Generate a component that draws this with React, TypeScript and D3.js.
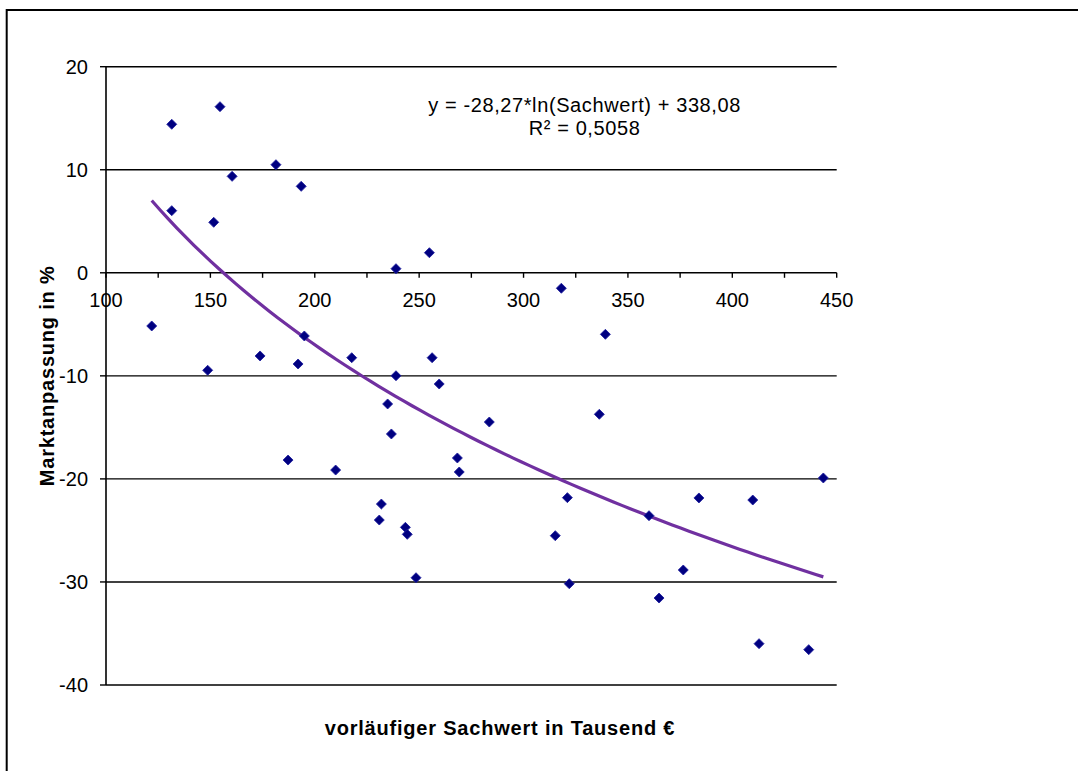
import React, { useEffect, useRef } from "react";
import * as d3 from "d3";

// Vorläufiger Sachwert (Tausend €) and Marktanpassung (%) per sale
const sachwert: number[] = [
  131.5, 154.6, 181.4, 160.4, 193.5, 131.5, 151.6, 121.9, 195.0, 173.8,
  192.0, 148.7, 217.7, 238.9, 254.9, 318.1, 256.2, 238.9, 339.2, 259.6,
  234.9, 283.6, 236.7, 268.3, 269.2, 231.9, 230.9, 243.4, 244.3, 248.5,
  321.0, 315.2, 321.9, 187.2, 210.0, 336.3, 443.6, 360.1, 384.0, 409.8,
  376.5, 364.9, 412.8, 436.6,
];
const marktanpassung: number[] = [
  14.41, 16.12, 10.49, 9.36, 8.39, 6.03, 4.9, -5.16, -6.13, -8.07,
  -8.85, -9.46, -8.24, 0.4, 1.95, -1.5, -8.24, -9.99, -5.97, -10.79,
  -12.73, -14.48, -15.64, -17.97, -19.33, -22.44, -23.99, -24.7, -25.38, -29.59,
  -21.82, -25.51, -30.17, -18.17, -19.14, -13.73, -19.91, -23.57, -21.85, -22.05,
  -28.84, -31.56, -35.99, -36.57,
];

// Logarithmic trendline coefficients (Sachwert in €)
const trendSlope = -28.27;
const trendIntercept = 338.08;
const rSquared = "0,5058";

const xTicks: number[] = [100, 150, 200, 250, 300, 350, 400, 450];
const xMinorTicks: number[] = [125, 175, 225, 275, 325, 375, 425];
const yTicks: number[] = [20, 10, 0, -10, -20, -30, -40];

const xTitle = "vorläufiger Sachwert in Tausend €";
const yTitle = "Marktanpassung in %";
const equationText = "y = -28,27*ln(Sachwert) + 338,08";

const FONT = "Arial, 'Liberation Sans', sans-serif";

export default function App() {
  const ref = useRef<SVGSVGElement | null>(null);

  useEffect(() => {
    const svg = d3.select(ref.current);
    svg.selectAll("*").remove();

    const x = d3.scaleLinear().domain([100, 450]).range([106, 836.7]);
    const y = d3.scaleLinear().domain([20, -40]).range([66.7, 685]);

    // chart area background and frame (right and bottom edges run past the view)
    svg.append("rect").attr("width", 1078).attr("height", 771).attr("fill", "#fff");
    svg
      .append("path")
      .attr("d", "M6.7,800 V10 H1100")
      .attr("fill", "none")
      .attr("stroke", "#000")
      .attr("stroke-width", 2);

    // horizontal grid lines
    svg
      .append("g")
      .selectAll("line")
      .data(yTicks)
      .join("line")
      .attr("x1", x(100))
      .attr("x2", x(450))
      .attr("y1", (d) => y(d))
      .attr("y2", (d) => y(d))
      .attr("stroke", "#000")
      .attr("stroke-width", 1.4);

    // y axis
    svg
      .append("line")
      .attr("x1", x(100))
      .attr("x2", x(100))
      .attr("y1", y(20))
      .attr("y2", y(-40))
      .attr("stroke", "#000")
      .attr("stroke-width", 1.6);

    svg
      .append("g")
      .selectAll("line")
      .data(yTicks)
      .join("line")
      .attr("x1", x(100) - 6)
      .attr("x2", x(100))
      .attr("y1", (d) => y(d))
      .attr("y2", (d) => y(d))
      .attr("stroke", "#000")
      .attr("stroke-width", 1.4);

    svg
      .append("g")
      .selectAll("text")
      .data(yTicks)
      .join("text")
      .attr("x", 88)
      .attr("y", (d) => y(d) + 7.3)
      .attr("text-anchor", "end")
      .attr("font-family", FONT)
      .attr("font-size", 20)
      .attr("fill", "#000")
      .text((d) => String(d));

    // x axis at y = 0
    svg
      .append("g")
      .selectAll("line")
      .data([...xTicks, ...xMinorTicks])
      .join("line")
      .attr("x1", (d) => x(d))
      .attr("x2", (d) => x(d))
      .attr("y1", y(0))
      .attr("y2", y(0) + 5)
      .attr("stroke", "#000")
      .attr("stroke-width", 1.4);

    svg
      .append("g")
      .selectAll("text")
      .data(xTicks)
      .join("text")
      .attr("x", (d) => x(d))
      .attr("y", y(0) + 34)
      .attr("text-anchor", "middle")
      .attr("font-family", FONT)
      .attr("font-size", 20)
      .attr("fill", "#000")
      .text((d) => String(d));

    // trendline over the data range
    const [xmin, xmax] = d3.extent(sachwert) as [number, number];
    const trendX = d3.range(0, 81).map((i) => xmin + ((xmax - xmin) * i) / 80);
    const line = d3
      .line<number>()
      .x((d) => x(d))
      .y((d) => y(trendSlope * Math.log(d * 1000) + trendIntercept));
    svg
      .append("path")
      .datum(trendX)
      .attr("d", line)
      .attr("fill", "none")
      .attr("stroke", "#7030A0")
      .attr("stroke-width", 3.2);

    // data markers
    const diamond = d3.symbol().type(d3.symbolSquare).size(50)();
    svg
      .append("g")
      .selectAll("path")
      .data(sachwert.map((v, i) => [v, marktanpassung[i]]))
      .join("path")
      .attr("d", diamond)
      .attr("transform", (d) => `translate(${x(d[0])},${y(d[1])}) rotate(45)`)
      .attr("fill", "#000080")
      .attr("stroke", "#1f1f9e")
      .attr("stroke-width", 0.8);

    // trendline label
    const eq = svg
      .append("text")
      .attr("text-anchor", "middle")
      .attr("font-family", FONT)
      .attr("font-size", 20)
      .attr("letter-spacing", 0.6)
      .attr("fill", "#000");
    eq.append("tspan").attr("x", 584.6).attr("y", 111.7).text(equationText);
    eq.append("tspan").attr("x", 584.6).attr("y", 135).text(`R² = ${rSquared}`);

    // axis titles
    svg
      .append("text")
      .attr("x", 500)
      .attr("y", 735)
      .attr("text-anchor", "middle")
      .attr("font-family", FONT)
      .attr("font-size", 20)
      .attr("font-weight", "bold")
      .attr("letter-spacing", 0.8)
      .attr("fill", "#000")
      .text(xTitle);

    svg
      .append("text")
      .attr("transform", `translate(54,${(y(20) + y(-40)) / 2}) rotate(-90)`)
      .attr("text-anchor", "middle")
      .attr("font-family", FONT)
      .attr("font-size", 20)
      .attr("font-weight", "bold")
      .attr("letter-spacing", 0.8)
      .attr("fill", "#000")
      .text(yTitle);
  }, []);

  return (
    <svg
      ref={ref}
      width={1078}
      height={771}
      style={{ position: "absolute", left: 0, top: 0, display: "block" }}
    />
  );
}
